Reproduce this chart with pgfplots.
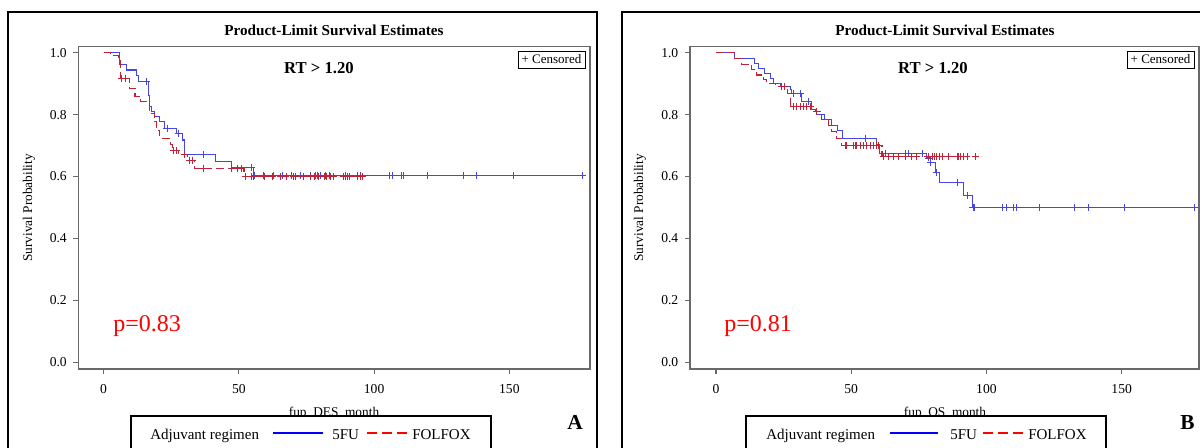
\documentclass[border=0pt]{standalone}
\usepackage{fontspec}
\setmainfont{Liberation Serif}
\usepackage{pgfplots}
\pgfplotsset{compat=1.18}
\definecolor{kmblue}{RGB}{70,70,232}
\definecolor{kmred}{RGB}{192,35,55}
\definecolor{axgray}{RGB}{105,105,105}
\pgfplotsset{km/.style={
  scale only axis, anchor=south west,
  ymin=-0.0216, ymax=1.020,
  axis line style={axgray, line width=1.1pt},
  tick pos=left, tick align=outside,
  major tick length=3.75pt,
  tick style={axgray, line width=0.8pt},
  xtick={0,50,100,150},
  ytick={0,0.2,0.4,0.6,0.8,1.0},
  /pgf/number format/assume math mode=true,
  tick label style={font=\fontsize{10.2}{12}\selectfont},
  yticklabel style={xshift=-1.5pt, /pgf/number format/.cd, fixed, fixed zerofill, precision=1},
  xticklabel style={yshift=-4.5pt, /pgf/number format/.cd, fixed, precision=0},
  clip=true,
}}
\tikzset{
  bl/.style={kmblue, line width=0.8pt, const plot mark left},
  rd/.style={kmred, line width=0.8pt, const plot mark left, dash pattern=on 6pt off 3pt},
  bm/.style={only marks, mark=+, kmblue, mark size=2.6pt, mark options={line width=0.6pt, solid}},
  rm/.style={only marks, mark=+, kmred, mark size=2.6pt, mark options={line width=0.6pt, solid}},
}
\begin{document}
\begin{tikzpicture}[x=0.75pt,y=0.75pt]
\path[use as bounding box] (0,0) rectangle (1200,448);
\clip (0,0) rectangle (1200,448);
\fill[white] (0,0) rectangle (1200,448);
% outer frames
\draw[line width=1.1pt] (8,436) rectangle (597,-20);
\draw[line width=1.1pt] (622,436) rectangle (1230,-20);

% ---------------- Panel A ----------------
\begin{axis}[km, at={(58.875pt,59.25pt)}, width=383.625pt, height=241.875pt,
  xmin=-9.28, xmax=179.8]
\addplot[bl] coordinates {(0,1.0) (5.8,0.962) (8.4,0.944) (12.2,0.925) (13.0,0.906) (16.5,0.863) (17.1,0.826) (17.7,0.809) (18.9,0.793) (20.8,0.777) (22.6,0.756) (26.9,0.740) (29.0,0.718) (29.8,0.670) (41.2,0.648) (47.4,0.628) (55.3,0.604) (177,0.604)};
\addplot[rd] coordinates {(0,1.0) (2.4,0.990) (5.6,0.978) (6.2,0.917) (9.5,0.885) (11.6,0.858) (13.8,0.842) (16.9,0.804) (18.9,0.777) (19.5,0.750) (20.8,0.723) (24.8,0.702) (25.5,0.683) (27.7,0.670) (31.0,0.653) (33.5,0.627) (51.9,0.600) (95.8,0.600)};
\addplot[bm] coordinates {(16.0,0.906) (23.4,0.756) (27.6,0.740) (36.9,0.670) (54.7,0.628) (55.8,0.604) (59.2,0.604) (62.6,0.604) (66,0.604) (69.6,0.604) (72.8,0.604) (76.5,0.604) (78.4,0.604) (79.2,0.604) (80.2,0.604) (82.1,0.604) (83.3,0.604) (89.5,0.604) (93.9,0.604) (95.1,0.604) (105.7,0.604) (106.9,0.604) (110,0.604) (111,0.604) (119.7,0.604) (132.9,0.604) (137.9,0.604) (151.3,0.604) (177,0.604)};
\addplot[rm] coordinates {(6.7,0.917) (7.9,0.917) (25.9,0.683) (26.8,0.683) (29.9,0.670) (31.7,0.653) (32.9,0.653) (36.9,0.627) (47.4,0.627) (49.3,0.627) (51.1,0.627) (52.5,0.600) (54.6,0.600) (55.3,0.600) (59.6,0.600) (62.4,0.600) (65.3,0.600) (67.4,0.600) (70.2,0.600) (71,0.600) (73.8,0.600) (76.6,0.600) (78,0.600) (79.5,0.600) (81.6,0.600) (82.3,0.600) (83.7,0.600) (85.1,0.600) (88.7,0.600) (89.4,0.600) (90.1,0.600) (90.8,0.600) (93.7,0.600) (95.1,0.600) (95.8,0.600)};
\end{axis}

% ---------------- Panel B ----------------
\begin{axis}[km, at={(517.5pt,59.25pt)}, width=381.75pt, height=241.875pt,
  xmin=-9.6, xmax=178.6]
\addplot[bl] coordinates {(0,1.0) (7.0,0.982) (14.4,0.966) (15.6,0.950) (18.1,0.933) (20.0,0.917) (21.2,0.901) (23.7,0.890) (27.4,0.880) (28.0,0.869) (31.5,0.842) (35.2,0.815) (37.1,0.799) (40.2,0.783) (42.6,0.766) (45.1,0.750) (46.9,0.723) (59.3,0.702) (60.5,0.675) (78.0,0.660) (79.2,0.645) (81.1,0.614) (82.7,0.581) (91.6,0.540) (94.9,0.500) (177,0.500)};
\addplot[rd] coordinates {(0,1.0) (7.0,0.982) (9.5,0.963) (13.2,0.946) (15.1,0.928) (17.5,0.912) (18.8,0.901) (21.9,0.890) (26.5,0.869) (27.7,0.826) (36.7,0.810) (39.1,0.785) (41.6,0.766) (42.8,0.745) (44.7,0.723) (46.5,0.699) (61.4,0.664) (95.9,0.664)};
\addplot[bm] coordinates {(28.6,0.869) (31.1,0.869) (34.0,0.842) (55.2,0.723) (62.6,0.675) (70,0.675) (71.2,0.675) (76.4,0.675) (78.6,0.660) (79.4,0.645) (81.5,0.614) (89.2,0.581) (92.9,0.540) (95.0,0.500) (95.6,0.500) (105.8,0.500) (107.4,0.500) (110.1,0.500) (111.1,0.500) (119.7,0.500) (132.7,0.500) (137.7,0.500) (151.1,0.500) (176.8,0.500)};
\addplot[rm] coordinates {(24.3,0.890) (25.3,0.890) (28.6,0.826) (29.9,0.826) (31.1,0.826) (32.3,0.826) (33.6,0.826) (34.8,0.826) (37.3,0.810) (47.8,0.699) (48.4,0.699) (50.9,0.699) (51.5,0.699) (52.1,0.699) (53.3,0.699) (54.6,0.699) (55.8,0.699) (57,0.699) (58.3,0.699) (59.5,0.699) (60.1,0.699) (62,0.664) (63.8,0.664) (65.7,0.664) (67.5,0.664) (70,0.664) (72.1,0.664) (74.1,0.664) (78.6,0.664) (79.9,0.664) (80.7,0.664) (81.5,0.664) (82.7,0.664) (83.6,0.664) (86,0.664) (89.1,0.664) (89.7,0.664) (90.3,0.664) (91.6,0.664) (92.8,0.664) (95.9,0.664)};
\end{axis}

% ---------------- Texts A ----------------
\node[anchor=base, font=\fontsize{11.4}{13}\selectfont\bfseries] at (334,412) {Product-Limit Survival Estimates};
\node[anchor=base, font=\fontsize{12.5}{14}\selectfont\bfseries] at (319,374.7) {RT > 1.20};
\draw[line width=0.6pt, fill=white] (518,397) rectangle (585,380);
\node[font=\fontsize{9.75}{11}\selectfont] at (551.5,388.5) {+ Censored};
\node[rotate=90, font=\fontsize{10}{12}\selectfont] at (29,240) {Survival Probability};
\node[anchor=base west, text=red, inner sep=0pt, font=\fontsize{18}{20}\selectfont] at (113,116) {p=0.83};
\node[anchor=base, font=\fontsize{10}{12}\selectfont] at (334,31.5) {fup\_DES\_month};
\draw[line width=1.5pt, fill=white] (130.5,32) rectangle (491,-20);
\node[anchor=base west, inner sep=0pt, font=\fontsize{11.25}{13}\selectfont] at (150,8.5) {Adjuvant regimen};
\draw[blue, line width=1.5pt] (273,14.7) -- (323,14.7);
\node[anchor=base west, inner sep=0pt, font=\fontsize{11.25}{13}\selectfont] at (332,8.5) {5FU};
\draw[red, line width=1.5pt, dash pattern=on 7.5pt off 3.75pt] (367,14.7) -- (408,14.7);
\node[anchor=base west, inner sep=0pt, font=\fontsize{11.25}{13}\selectfont] at (412,8.5) {FOLFOX};
\node[anchor=base west, inner sep=0pt, font=\fontsize{16}{18}\selectfont\bfseries] at (567,18) {A};

% ---------------- Texts B ----------------
\node[anchor=base, font=\fontsize{11.4}{13}\selectfont\bfseries] at (945,412) {Product-Limit Survival Estimates};
\node[anchor=base, font=\fontsize{12.5}{14}\selectfont\bfseries] at (933,374.7) {RT > 1.20};
\draw[line width=0.6pt, fill=white] (1127,397) rectangle (1194,380);
\node[font=\fontsize{9.75}{11}\selectfont] at (1160.5,388.5) {+ Censored};
\node[rotate=90, font=\fontsize{10}{12}\selectfont] at (640,240) {Survival Probability};
\node[anchor=base west, text=red, inner sep=0pt, font=\fontsize{18}{20}\selectfont] at (724,116) {p=0.81};
\node[anchor=base, font=\fontsize{10}{12}\selectfont] at (945,31.5) {fup\_OS\_month};
\draw[line width=1.5pt, fill=white] (745.7,32) rectangle (1106,-20);
\node[anchor=base west, inner sep=0pt, font=\fontsize{11.25}{13}\selectfont] at (766,8.5) {Adjuvant regimen};
\draw[blue, line width=1.5pt] (890,14.7) -- (938,14.7);
\node[anchor=base west, inner sep=0pt, font=\fontsize{11.25}{13}\selectfont] at (950,8.5) {5FU};
\draw[red, line width=1.5pt, dash pattern=on 7.5pt off 3.75pt] (983,14.7) -- (1024,14.7);
\node[anchor=base west, inner sep=0pt, font=\fontsize{11.25}{13}\selectfont] at (1028,8.5) {FOLFOX};
\node[anchor=base west, inner sep=0pt, font=\fontsize{16}{18}\selectfont\bfseries] at (1180,18) {B};
\end{tikzpicture}
\end{document}
